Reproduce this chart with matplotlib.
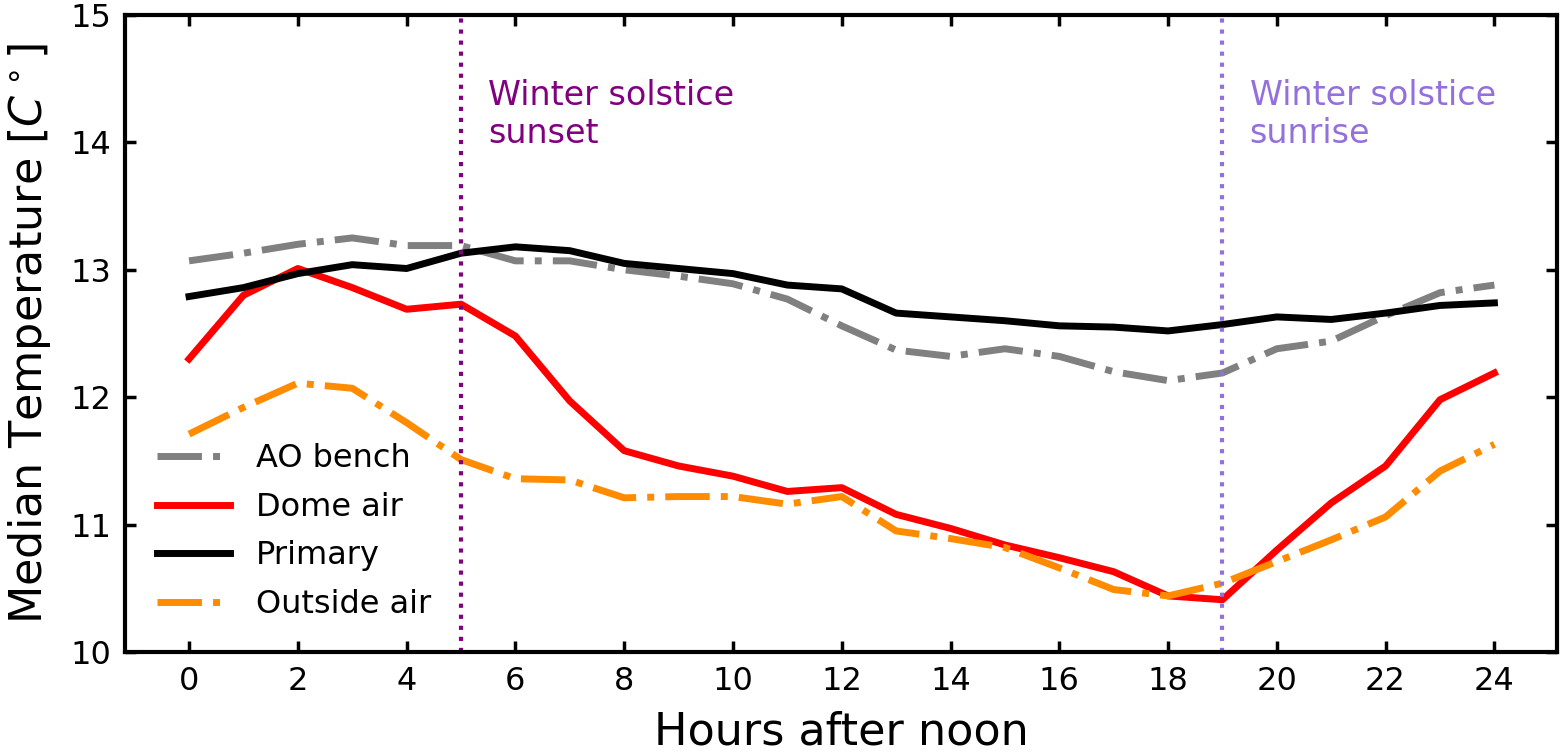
import numpy as np
import matplotlib
matplotlib.use('Agg')
import matplotlib.pyplot as plt

# hours after noon
hours = list(range(25))

ao_bench = [13.07, 13.13, 13.20, 13.25, 13.19, 13.19, 13.07, 13.07, 13.00, 12.95,
            12.89, 12.77, 12.56, 12.37, 12.32, 12.38, 12.32, 12.20, 12.13, 12.19,
            12.38, 12.44, 12.64, 12.82, 12.88]
dome_air = [12.30, 12.80, 13.01, 12.86, 12.69, 12.73, 12.48, 11.97, 11.58, 11.46,
            11.38, 11.26, 11.29, 11.08, 10.97, 10.84, 10.74, 10.63, 10.44, 10.41,
            10.80, 11.17, 11.46, 11.98, 12.19]
primary = [12.79, 12.86, 12.97, 13.04, 13.01, 13.13, 13.18, 13.15, 13.05, 13.01,
           12.97, 12.88, 12.85, 12.66, 12.63, 12.60, 12.56, 12.55, 12.52, 12.57,
           12.63, 12.61, 12.66, 12.72, 12.74]
outside_air = [11.71, 11.92, 12.11, 12.07, 11.80, 11.51, 11.36, 11.35, 11.21, 11.22,
               11.22, 11.16, 11.22, 10.95, 10.89, 10.82, 10.66, 10.49, 10.44, 10.54,
               10.71, 10.88, 11.06, 11.42, 11.63]

sunset_hour = 5
sunrise_hour = 19

plt.rcParams.update({'font.family': 'DejaVu Sans'})

fig = plt.figure(figsize=(15.61, 7.56), dpi=100)
ax = fig.add_axes([0.080, 0.1376, 0.9174, 0.8426])

ax.plot(hours, ao_bench, '-.', color='gray', lw=5, label='AO bench')
ax.plot(hours, dome_air, '-', color='red', lw=5, label='Dome air')
ax.plot(hours, primary, '-', color='black', lw=5, label='Primary')
ax.plot(hours, outside_air, '-.', color='darkorange', lw=5, label='Outside air')

ax.axvline(sunset_hour, color='purple', ls=':', lw=3)
ax.axvline(sunrise_hour, color='mediumpurple', ls=':', lw=3)
ax.text(sunset_hour + 0.5, 14.5, 'Winter solstice\nsunset', color='purple',
        fontsize=24, va='top', ha='left', linespacing=1.2)
ax.text(sunrise_hour + 0.5, 14.5, 'Winter solstice\nsunrise', color='mediumpurple',
        fontsize=24, va='top', ha='left', linespacing=1.2)

ax.set_xlim(-1.18, 25.15)
ax.set_ylim(10, 15)
ax.set_xticks(range(0, 25, 2))
ax.set_yticks(range(10, 16))
ax.tick_params(direction='in', top=True, right=True, labelsize=23,
               length=8, width=2.5, pad=10)
for s in ax.spines.values():
    s.set_linewidth(3)

ax.set_xlabel('Hours after noon', fontsize=32, labelpad=10)
ax.set_ylabel(r'Median Temperature [$C^\circ$]', fontsize=32, labelpad=12)

ax.legend(loc='lower left', frameon=False, fontsize=23, handlelength=2.3,
          handletextpad=0.8, borderaxespad=0.6, labelspacing=0.55)

fig.savefig('out.png', dpi=100)
